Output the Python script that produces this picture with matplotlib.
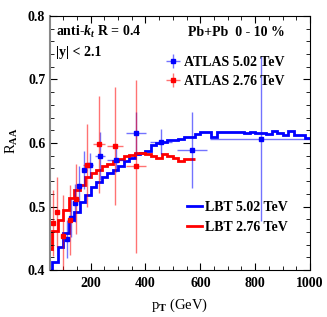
import numpy as np
from matplotlib import pyplot as plt
from matplotlib.lines import Line2D
from matplotlib.ticker import MultipleLocator

plt.rcParams['font.family'] = ['Liberation Serif', 'DejaVu Serif']
plt.rcParams['font.weight'] = 'bold'
plt.rcParams['mathtext.fontset'] = 'custom'
plt.rcParams['mathtext.rm'] = 'Liberation Serif:bold'
plt.rcParams['mathtext.it'] = 'Liberation Serif:bold:italic'
plt.rcParams['mathtext.bf'] = 'Liberation Serif:bold'

# LBT histograms, 20 GeV bins
lbt_edges_502 = np.arange(40, 1001, 20)
lbt_502 = [0.400, 0.412, 0.437, 0.458, 0.478, 0.492, 0.507, 0.518, 0.530, 0.539,
           0.546, 0.553, 0.558, 0.564, 0.571, 0.577, 0.582, 0.584, 0.588, 0.597,
           0.600, 0.601, 0.604, 0.605, 0.607, 0.609, 0.610, 0.614, 0.617, 0.617,
           0.609, 0.617, 0.618, 0.618, 0.617, 0.617, 0.616, 0.618, 0.616, 0.616,
           0.614, 0.619, 0.615, 0.613, 0.619, 0.613, 0.613, 0.608]
lbt_edges_276 = np.arange(40, 581, 20)
lbt_276 = [0.433, 0.461, 0.479, 0.494, 0.513, 0.526, 0.534, 0.546, 0.552, 0.558,
           0.563, 0.567, 0.571, 0.575, 0.579, 0.581, 0.584, 0.584, 0.582, 0.579,
           0.577, 0.582, 0.580, 0.577, 0.571, 0.575, 0.575]

# ATLAS 5.02 TeV
atlas_x_502 = [113, 127, 143, 159, 177, 198, 234, 292, 365, 456, 570, 821]
atlas_xe_502 = [6, 7, 8, 8, 10, 12, 18, 34, 36, 40, 56, 187]
atlas_y_502 = [0.449, 0.482, 0.505, 0.533, 0.558, 0.565, 0.579, 0.574, 0.616, 0.602, 0.589, 0.607]
atlas_ye_502 = [0.030, 0.030, 0.030, 0.030, 0.030, 0.020, 0.038, 0.020, 0.033, 0.020, 0.060, 0.130]

# ATLAS 2.76 TeV
atlas_x_276 = [64, 78, 98, 125, 147, 186, 231, 289, 365]
atlas_xe_276 = [4, 5, 6, 8, 10, 15, 21, 30, 36]
atlas_y_276 = [0.474, 0.491, 0.453, 0.479, 0.512, 0.565, 0.598, 0.595, 0.563]
atlas_ye_276 = [0.052, 0.055, 0.065, 0.055, 0.055, 0.065, 0.076, 0.093, 0.136]

fig = plt.figure(figsize=(3.27, 3.17), dpi=100)
ax = fig.add_axes([49.5 / 327, 47 / 317, 260.5 / 327, 254 / 317])

ax.stairs(lbt_502, lbt_edges_502, color='blue', lw=2.0, baseline=None)
ax.stairs(lbt_276, lbt_edges_276, color='red', lw=2.0, baseline=None)

ax.errorbar(atlas_x_502, atlas_y_502, yerr=atlas_ye_502, xerr=atlas_xe_502,
            fmt='s', ms=3.5, color='blue', ecolor=(0, 0, 1, 0.55), elinewidth=1, capsize=0)
ax.errorbar(atlas_x_276, atlas_y_276, yerr=atlas_ye_276, xerr=atlas_xe_276,
            fmt='s', ms=3.5, color='red', ecolor=(1, 0, 0, 0.55), elinewidth=1, capsize=0)

ax.set_xlim(50, 1000)
ax.set_ylim(0.4, 0.8)
ax.xaxis.set_major_locator(MultipleLocator(200))
ax.xaxis.set_minor_locator(MultipleLocator(50))
ax.yaxis.set_major_locator(MultipleLocator(0.1))
ax.yaxis.set_minor_locator(MultipleLocator(0.02))
ax.tick_params(which='both', direction='in', top=True, right=True, labelsize=10)
ax.tick_params(which='major', length=5)
ax.tick_params(which='minor', length=3)
ax.tick_params(axis='x', pad=5)
ax.tick_params(axis='y', pad=3)
ax.spines['left'].set_color('#888888')
ax.spines['left'].set_linewidth(1.5)

ax.set_xlabel(r'p$_\mathrm{T}$ (GeV)', fontsize=10.5)
ax.set_ylabel(r'R$_\mathrm{AA}$', fontsize=10.5)
ax.xaxis.set_label_coords(0.5, -0.105)
ax.yaxis.set_label_coords(-0.115, 0.51)

ax.text(0.024, 0.937, r'anti-$k_t$ R = 0.4', transform=ax.transAxes, fontsize=10, va='center')
ax.text(0.024, 0.858, '|y| < 2.1', transform=ax.transAxes, fontsize=10, va='center')
ax.text(0.904, 0.937, 'Pb+Pb  0 - 10 %', transform=ax.transAxes, fontsize=10, va='center', ha='right')

h1 = ax.errorbar([], [], yerr=[], xerr=[], fmt='s', ms=3.5, color='blue',
                 ecolor=(0, 0, 1, 0.55), elinewidth=1, capsize=0)
h2 = ax.errorbar([], [], yerr=[], xerr=[], fmt='s', ms=3.5, color='red',
                 ecolor=(1, 0, 0, 0.55), elinewidth=1, capsize=0)
leg1 = ax.legend([h1, h2], ['ATLAS 5.02 TeV', 'ATLAS 2.76 TeV'], loc='center left',
                 bbox_to_anchor=(0.44, 0.779), frameon=False, fontsize=10,
                 handlelength=1.3, handletextpad=0.1, labelspacing=0.45, borderpad=0,
                 borderaxespad=0)
ax.add_artist(leg1)
l1 = Line2D([], [], color='blue', lw=2.0)
l2 = Line2D([], [], color='red', lw=2.0)
ax.legend([l1, l2], ['LBT 5.02 TeV', 'LBT 2.76 TeV'], loc='center left',
          bbox_to_anchor=(0.527, 0.207), frameon=False, fontsize=10,
          handlelength=1.1, handletextpad=0.2, labelspacing=0.45, borderpad=0,
          borderaxespad=0)

plt.savefig('out.png', dpi=100)
